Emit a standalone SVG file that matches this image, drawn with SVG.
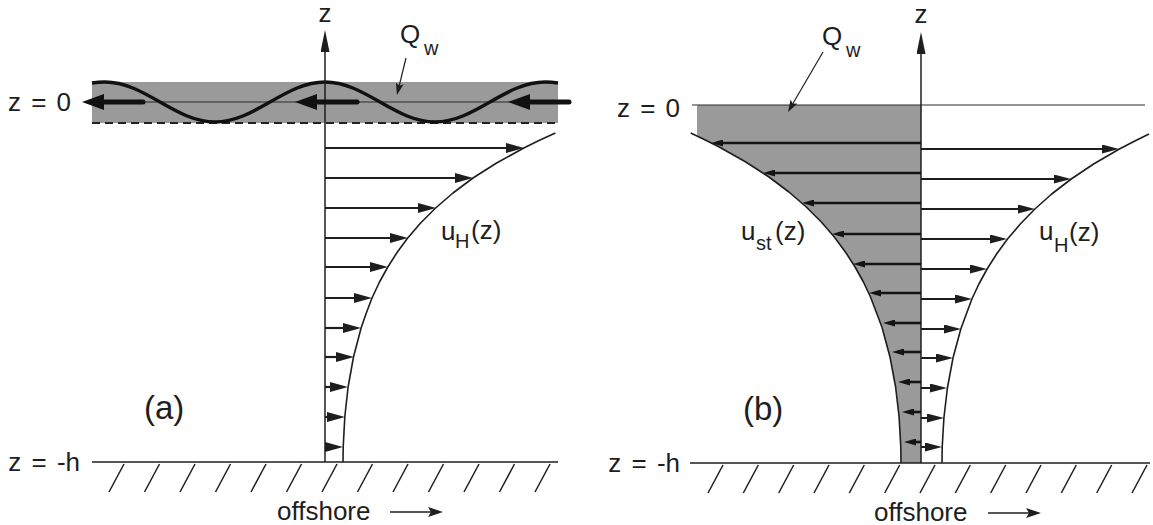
<svg xmlns="http://www.w3.org/2000/svg" width="1153" height="525" viewBox="0 0 1153 525">
  <style>
    text { font-family: "Liberation Sans", Arial, sans-serif; fill: #1e1e1e; }
    .lbl { font-size: 26px; }
    .sub { font-size: 20px; }
    .big { font-size: 33px; }
    .ax { stroke: #1e1e1e; stroke-width: 1.5; fill: none; }
    .thin { stroke: #2a2a2a; stroke-width: 1; fill: none; }
    .curve { stroke: #1e1e1e; stroke-width: 1.6; fill: none; stroke-linejoin: round; }
    .hatch { stroke: #1e1e1e; stroke-width: 1.5; }
    .va { stroke: #1e1e1e; stroke-width: 2.2; marker-end: url(#ahA); }
    .vbr { stroke: #1e1e1e; stroke-width: 2; marker-end: url(#ahBR); }
    .vbl { stroke: #141414; stroke-width: 2.6; marker-end: url(#ahBL); }
    .thick { stroke: #111; stroke-width: 5; stroke-linecap: round; marker-end: url(#ahThick); }
    .ptr { stroke: #1e1e1e; stroke-width: 1.2; marker-end: url(#ahPtr); }
    .off { stroke: #1e1e1e; stroke-width: 1.6; marker-end: url(#ahOff); }
    .shade { fill: #9a9a9a; }
  </style>
  <defs>
    <marker id="ahA" markerUnits="userSpaceOnUse" markerWidth="18" markerHeight="10" refX="8" refY="5" orient="auto">
      <path d="M0,0 L18,5 L0,10 Z" fill="#1e1e1e"/>
    </marker>
    <marker id="ahBR" markerUnits="userSpaceOnUse" markerWidth="17" markerHeight="9" refX="7" refY="4.5" orient="auto">
      <path d="M0,0 L17,4.5 L0,9 Z" fill="#1e1e1e"/>
    </marker>
    <marker id="ahBL" markerUnits="userSpaceOnUse" markerWidth="12" markerHeight="7" refX="6" refY="3.5" orient="auto">
      <path d="M0,0 L12,3.5 L0,7 Z" fill="#141414"/>
    </marker>
    <marker id="ahThick" markerUnits="userSpaceOnUse" markerWidth="23" markerHeight="17" refX="7" refY="8" orient="auto">
      <path d="M0,0 L22,8 L0,16 Z" fill="#111"/>
    </marker>
    <marker id="ahAxis" markerUnits="userSpaceOnUse" markerWidth="23" markerHeight="10" refX="12" refY="4.5" orient="auto">
      <path d="M0,0 L22,4.5 L0,9 Z" fill="#1e1e1e"/>
    </marker>
    <marker id="ahPtr" markerUnits="userSpaceOnUse" markerWidth="14" markerHeight="9" refX="8" refY="4" orient="auto">
      <path d="M0,0 L12,4 L0,8 L2.5,4 Z" fill="#1e1e1e"/>
    </marker>
    <marker id="ahOff" markerUnits="userSpaceOnUse" markerWidth="16" markerHeight="10" refX="10" refY="5" orient="auto">
      <path d="M0,0 L15,5 L0,10 L3,5 Z" fill="#1e1e1e"/>
    </marker>
  </defs>

  <!-- Panel (a) -->
  <g id="panel-a">
    <g id="a-band">
      <rect class="shade" x="92" y="82" width="466" height="41"/>
      <line class="thin" x1="92" y1="102" x2="558" y2="102"/>
      <line x1="92" y1="123" x2="558" y2="123" stroke="#222" stroke-width="2" stroke-dasharray="8 5"/>
      <path d="M92,83 Q98.5,82 105,82 C145,82 175,122 215,122 C255,122 285,82 325,82 C365,82 395,122 435,122 C475,122 505,82 545,82 Q551.5,82 558,83" fill="none" stroke="#111" stroke-width="3.4"/>
    </g>
    <g id="a-axis">
      <line class="ax" x1="325" y1="462" x2="325" y2="40" marker-end="url(#ahAxis)"/>
      <text class="lbl" x="325" y="22" text-anchor="middle">z</text>
    </g>
    <g id="a-wave-transport">
      <line class="thick" x1="143" y1="102" x2="97" y2="102"/>
      <line class="thick" x1="357" y1="102" x2="310" y2="102"/>
      <line class="thick" x1="569" y1="102" x2="523" y2="102"/>
    </g>
    <g id="a-Qw">
      <text class="lbl" x="400" y="43">Q</text>
      <text class="sub" x="424" y="55">w</text>
      <line class="ptr" x1="406" y1="58" x2="397.9" y2="91.1"/>
    </g>
    <g id="a-profile">
      <path class="curve" d="M343,462 L343.2,447 L344.8,417 L348.1,387 L353.5,357 L361.1,328 L366.3,313 L372,298 L379.5,282 L387.8,267 L397.4,252 L407.7,238 L420.6,223 L435.6,208 L453,193 L473,178 L496.6,163 L523.8,148 L540,140 L555.4,133"/>
      <text class="lbl" x="441" y="240">u</text>
      <text class="sub" x="455" y="248">H</text>
      <text class="lbl" x="471" y="239">(z)</text>
    </g>
    <g id="a-ground">
      <line class="ax" x1="92" y1="462" x2="558" y2="462"/>
      <g class="hatch">
        <line x1="124" y1="464" x2="109" y2="492"/>
        <line x1="159.5" y1="464" x2="144.5" y2="492"/>
        <line x1="195" y1="464" x2="180" y2="492"/>
        <line x1="230.5" y1="464" x2="215.5" y2="492"/>
        <line x1="266" y1="464" x2="251" y2="492"/>
        <line x1="301.5" y1="464" x2="286.5" y2="492"/>
        <line x1="337" y1="464" x2="322" y2="492"/>
        <line x1="372.5" y1="464" x2="357.5" y2="492"/>
        <line x1="408" y1="464" x2="393" y2="492"/>
        <line x1="443.5" y1="464" x2="428.5" y2="492"/>
        <line x1="479" y1="464" x2="464" y2="492"/>
        <line x1="514.5" y1="464" x2="499.5" y2="492"/>
        <line x1="550" y1="464" x2="535" y2="492"/>
      </g>
    </g>
    <g id="a-labels">
      <text class="lbl" x="71" y="111" text-anchor="end" word-spacing="3">z = 0</text>
      <text class="lbl" x="80" y="471" text-anchor="end" word-spacing="3">z = -h</text>
      <text class="big" x="144" y="419">(a)</text>
      <text class="lbl" x="277" y="520">offshore</text>
      <line class="off" x1="390" y1="512" x2="438" y2="512"/>
    </g>
  </g>

  <!-- Panel (b) -->
  <g id="panel-b">
    <g id="b-stokes-region">
      <path class="shade" d="M697,105 H921 V463 H901 L900.8,447 L899.1,417 L895.6,387 L890,357 L881.9,327 L870.5,297 L863.4,282 L855.1,267 L845.4,252 L834.3,237 L821.3,222 L806.3,207 L788.9,192 L769,177 L745.8,162 L719.2,147 L705.3,140 L697,136 Z"/>
      <line class="thin" x1="692" y1="105" x2="1145" y2="105" stroke-width="1.2"/>
      <path class="curve" d="M901,463 L900.8,447 L899.1,417 L895.6,387 L890,357 L881.9,327 L870.5,297 L863.4,282 L855.1,267 L845.4,252 L834.3,237 L821.3,222 L806.3,207 L788.9,192 L769,177 L745.8,162 L719.2,147 L705.3,140 L690.7,133"/>
      <text class="lbl" x="741" y="240">u</text>
      <text class="sub" x="756" y="250">st</text>
      <text class="lbl" x="775" y="240">(z)</text>
    </g>
    <g id="b-axis">
      <line class="ax" x1="921" y1="463" x2="921" y2="42" marker-end="url(#ahAxis)"/>
      <text class="lbl" x="921" y="23" text-anchor="middle">z</text>
    </g>
    <g id="b-Qw">
      <text class="lbl" x="822" y="45">Q</text>
      <text class="sub" x="846" y="57">w</text>
      <line class="ptr" x1="823" y1="52" x2="790" y2="108.5"/>
    </g>
    <g id="b-uH">
      <path class="curve" d="M942,463 L942.2,447 L943.9,418 L947.4,388 L953,358 L960.8,329 L971.9,299 L978.9,284 L987.1,269 L996.6,254 L1007.5,239 L1020.3,224 L1034.9,209 L1051.7,194 L1071.2,179 L1093.6,164 L1119.4,149 L1134.8,141 L1149,134"/>
      <text class="lbl" x="1039" y="240">u</text>
      <text class="sub" x="1054" y="252">H</text>
      <text class="lbl" x="1069" y="241">(z)</text>
    </g>
    <g id="b-ground">
      <line class="ax" x1="690" y1="463" x2="1150" y2="463"/>
      <g class="hatch">
        <line x1="723" y1="465" x2="708" y2="493"/>
        <line x1="758.3" y1="465" x2="743.3" y2="493"/>
        <line x1="793.7" y1="465" x2="778.7" y2="493"/>
        <line x1="829" y1="465" x2="814" y2="493"/>
        <line x1="864.3" y1="465" x2="849.3" y2="493"/>
        <line x1="899.7" y1="465" x2="884.7" y2="493"/>
        <line x1="935" y1="465" x2="920" y2="493"/>
        <line x1="970.3" y1="465" x2="955.3" y2="493"/>
        <line x1="1005.7" y1="465" x2="990.7" y2="493"/>
        <line x1="1041" y1="465" x2="1026" y2="493"/>
        <line x1="1076.3" y1="465" x2="1061.3" y2="493"/>
        <line x1="1111.7" y1="465" x2="1096.7" y2="493"/>
        <line x1="1147" y1="465" x2="1132" y2="493"/>
      </g>
    </g>
    <g id="b-labels">
      <text class="lbl" x="680" y="117" text-anchor="end" word-spacing="3">z = 0</text>
      <text class="lbl" x="680" y="472" text-anchor="end" word-spacing="3">z = -h</text>
      <text class="big" x="743" y="420">(b)</text>
      <text class="lbl" x="874" y="521">offshore</text>
      <line class="off" x1="988" y1="513" x2="1036" y2="513"/>
    </g>
  </g>

  <!-- connectors: velocity arrows -->
  <g id="connectors">
    <g id="a-velocity-arrows">
      <line class="va" x1="325" y1="148" x2="514" y2="148"/>
      <line class="va" x1="325" y1="178" x2="463" y2="178"/>
      <line class="va" x1="325" y1="208" x2="426" y2="208"/>
      <line class="va" x1="325" y1="238" x2="398" y2="238"/>
      <line class="va" x1="325" y1="267" x2="378" y2="267"/>
      <line class="va" x1="325" y1="298" x2="362" y2="298"/>
      <line class="va" x1="325" y1="328" x2="351" y2="328"/>
      <line class="va" x1="325" y1="357" x2="344" y2="357"/>
      <line class="va" x1="325" y1="387" x2="338" y2="387"/>
      <line class="va" x1="325" y1="417" x2="335" y2="417"/>
      <line class="va" x1="325" y1="447" x2="333" y2="447"/>
    </g>
    <g id="b-stokes-arrows">
      <line class="vbl" x1="921" y1="143" x2="717" y2="143"/>
      <line class="vbl" x1="921" y1="173" x2="769" y2="173"/>
      <line class="vbl" x1="921" y1="203" x2="808" y2="203"/>
      <line class="vbl" x1="921" y1="234" x2="838" y2="234"/>
      <line class="vbl" x1="921" y1="264" x2="859" y2="264"/>
      <line class="vbl" x1="921" y1="293" x2="875" y2="293"/>
      <line class="vbl" x1="921" y1="323" x2="889" y2="323"/>
      <line class="vbl" x1="921" y1="352" x2="898" y2="352"/>
      <line class="vbl" x1="921" y1="382" x2="904" y2="382"/>
      <line class="vbl" x1="921" y1="412" x2="908" y2="412"/>
      <line class="vbl" x1="921" y1="442" x2="910" y2="442"/>
    </g>
    <g id="b-return-arrows">
      <line class="vbr" x1="921" y1="149" x2="1109" y2="149"/>
      <line class="vbr" x1="921" y1="179" x2="1061" y2="179"/>
      <line class="vbr" x1="921" y1="209" x2="1025" y2="209"/>
      <line class="vbr" x1="921" y1="239" x2="997" y2="239"/>
      <line class="vbr" x1="921" y1="269" x2="977" y2="269"/>
      <line class="vbr" x1="921" y1="299" x2="962" y2="299"/>
      <line class="vbr" x1="921" y1="329" x2="951" y2="329"/>
      <line class="vbr" x1="921" y1="358" x2="943" y2="358"/>
      <line class="vbr" x1="921" y1="388" x2="937" y2="388"/>
      <line class="vbr" x1="921" y1="418" x2="934" y2="418"/>
      <line class="vbr" x1="921" y1="447" x2="932" y2="447"/>
    </g>
  </g>
</svg>
